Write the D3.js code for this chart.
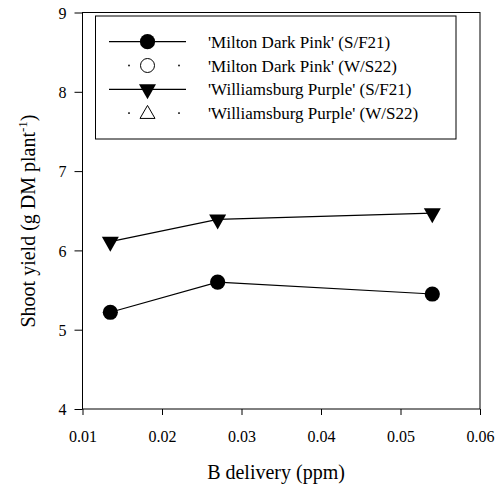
<!DOCTYPE html>
<html>
<head>
<meta charset="utf-8">
<script src="https://cdn.jsdelivr.net/npm/d3@7"></script>
</head>
<body style="margin:0;background:#fff">
<svg id="chart" width="495" height="488"></svg>
<script>
// ---- data ----
const xDelivery = [0.0135, 0.027, 0.054];
const miltonSF21 = [5.22, 5.60, 5.45];
const williamsburgSF21 = [6.11, 6.39, 6.47];
const xTicks = [0.01, 0.02, 0.03, 0.04, 0.05, 0.06];
const yTicks = [4, 5, 6, 7, 8, 9];
const legendLabels = [
  "'Milton Dark Pink' (S/F21)",
  "'Milton Dark Pink' (W/S22)",
  "'Williamsburg Purple' (S/F21)",
  "'Williamsburg Purple' (W/S22)"
];
const legendSymbols = ["circle", "circle-open", "triangle-down", "triangle-up-open"];
const legendLines = ["solid", "dotted", "solid", "dotted"];

const FONT = "'Liberation Serif', 'Times New Roman', 'DejaVu Serif', serif";

// ---- layout ----
const L = 82.5, R = 480, T = 12.5, B = 409;
const svg = d3.select("#chart");
const x = d3.scaleLinear().domain([0.01, 0.06]).range([L, R]);
const y = d3.scaleLinear().domain([4, 9]).range([B, T]);

svg.append("rect").attr("x", L).attr("y", T).attr("width", R - L).attr("height", B - T)
  .attr("fill", "none").attr("stroke", "#000").attr("stroke-width", 1);

const xAxis = svg.append("g").attr("transform", `translate(0,${B})`)
  .call(d3.axisBottom(x).tickValues(xTicks).tickFormat(d3.format(".2f")).tickSize(6).tickSizeOuter(0));
xAxis.select(".domain").remove();
xAxis.selectAll("text").attr("font-size", 16).attr("dy", null).attr("y", 33).attr("fill", "#000");
xAxis.selectAll("line").attr("stroke", "#000");

const yAxis = svg.append("g").attr("transform", `translate(${L},0)`)
  .call(d3.axisLeft(y).tickValues(yTicks).tickFormat(d3.format("d")).tickSize(8).tickSizeOuter(0));
yAxis.select(".domain").remove();
yAxis.selectAll("text").attr("font-size", 16).attr("x", -16).attr("dy", "0.35em").attr("fill", "#000");
yAxis.selectAll("line").attr("stroke", "#000");

svg.append("text").attr("x", 276).attr("y", 479).attr("text-anchor", "middle")
  .attr("font-size", 20).text("B delivery (ppm)");

const yt = svg.append("text").attr("transform", "translate(35,221) rotate(-90)")
  .attr("text-anchor", "middle").attr("font-size", 20);
yt.append("tspan").text("Shoot yield (g DM plant");
yt.append("tspan").attr("font-size", 13).attr("dy", -8).text("-1");
yt.append("tspan").attr("dy", 8).text(")");

const circleSym = d3.symbol().type(d3.symbolCircle).size(Math.PI * 7.6 * 7.6);
function triPath(down, w, h) {
  if (down) return `M${-w/2},${-h/3} L${w/2},${-h/3} L0,${2*h/3} Z`;
  return `M${-w/2},${h/3} L${w/2},${h/3} L0,${-2*h/3} Z`;
}

const line = d3.line().x(d => x(d[0])).y(d => y(d[1]));

[miltonSF21, williamsburgSF21].forEach(vals => {
  svg.append("path").datum(xDelivery.map((d, i) => [d, vals[i]]))
    .attr("d", line).attr("fill", "none").attr("stroke", "#000").attr("stroke-width", 1.2);
});

svg.selectAll(".mc").data(xDelivery.map((d, i) => [d, miltonSF21[i]])).enter()
  .append("path").attr("d", circleSym)
  .attr("transform", d => `translate(${x(d[0])},${y(d[1])})`).attr("fill", "#000");
svg.selectAll(".mt").data(xDelivery.map((d, i) => [d, williamsburgSF21[i]])).enter()
  .append("path").attr("d", triPath(true, 17, 15))
  .attr("transform", d => `translate(${x(d[0])},${y(d[1])})`).attr("fill", "#000");

const lg = svg.append("g");
lg.append("rect").attr("x", 95.5).attr("y", 16).attr("width", 360.5).attr("height", 123)
  .attr("fill", "#fff").attr("stroke", "#000").attr("stroke-width", 1);
legendLabels.forEach((lab, i) => {
  const cy = 41.7 + i * 23.8;
  const x0 = 109, x1 = 186, cx = 147.5;
  if (legendLines[i] === "solid") {
    lg.append("line").attr("x1", x0).attr("x2", x1).attr("y1", cy).attr("y2", cy)
      .attr("stroke", "#000").attr("stroke-width", 1.2);
  } else {
    [129, 179].forEach(px => lg.append("rect").attr("x", px - 0.8).attr("y", cy - 0.8)
      .attr("width", 1.6).attr("height", 1.6).attr("fill", "#000"));
  }
  const s = legendSymbols[i];
  if (s === "circle") {
    lg.append("path").attr("d", circleSym).attr("transform", `translate(${cx},${cy})`).attr("fill", "#000");
  } else if (s === "circle-open") {
    lg.append("circle").attr("cx", cx).attr("cy", cy).attr("r", 7)
      .attr("fill", "#fff").attr("stroke", "#000").attr("stroke-width", 1);
  } else if (s === "triangle-down") {
    lg.append("path").attr("d", triPath(true, 17, 15)).attr("transform", `translate(${cx},${cy})`).attr("fill", "#000");
  } else {
    lg.append("path").attr("d", triPath(false, 15, 13)).attr("transform", `translate(${cx},${cy + 1})`)
      .attr("fill", "#fff").attr("stroke", "#000").attr("stroke-width", 1);
  }
  lg.append("text").attr("x", 208).attr("y", cy + 6).attr("font-size", 17).text(lab);
});

// serif face on every text node, forced with an inline !important declaration
svg.selectAll("g").attr("font-family", null);
svg.node().style.setProperty("font-family", FONT, "important");
svg.selectAll("text, tspan").each(function () {
  this.setAttribute("font-family", FONT);
  this.style.setProperty("font-family", FONT, "important");
});
</script>
</body>
</html>
